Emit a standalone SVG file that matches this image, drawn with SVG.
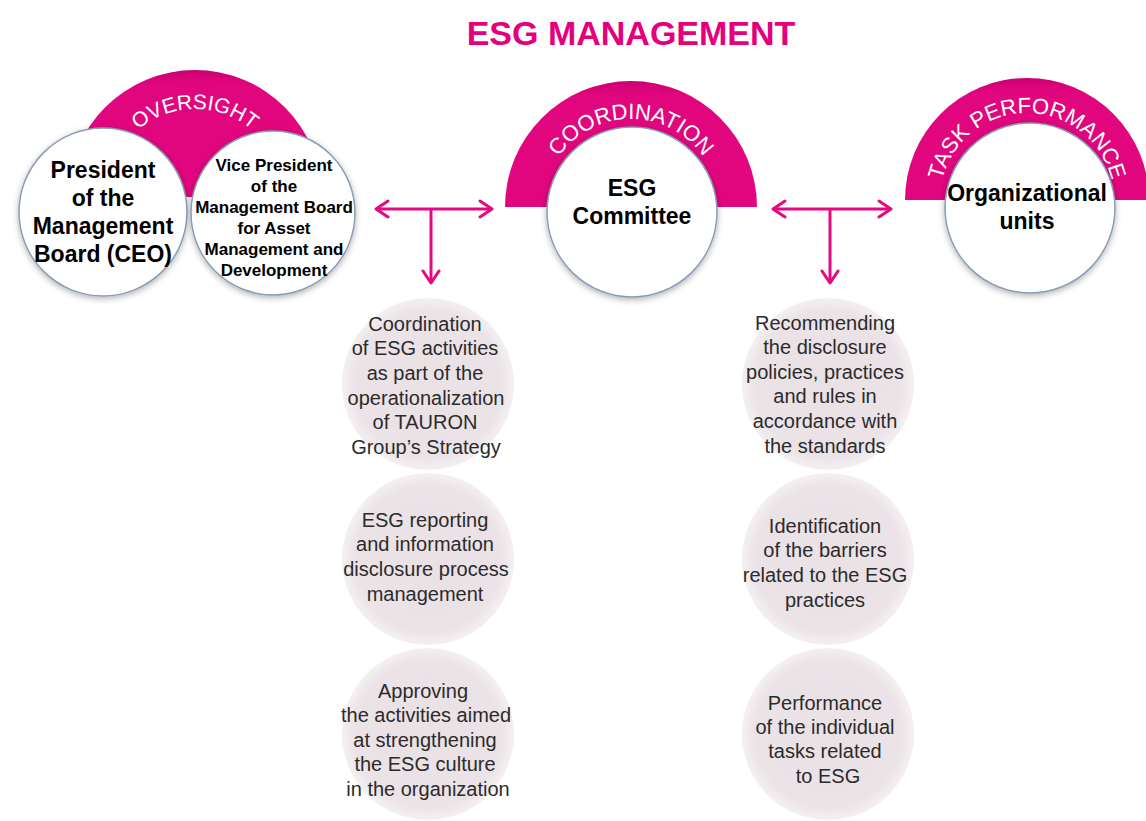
<svg xmlns="http://www.w3.org/2000/svg" xmlns:xlink="http://www.w3.org/1999/xlink" width="1146" height="821" viewBox="0 0 1146 821">
<defs>
<style>
.title{font-family:"Liberation Sans",Arial,sans-serif;font-weight:bold;font-size:34px;fill:#e4007d}
.arcTxt{font-family:"Liberation Sans",Arial,sans-serif;font-size:22px;fill:#ffffff}
.big{font-family:"Liberation Sans",Arial,sans-serif;font-weight:bold;font-size:23px;fill:#000}
.vp{font-family:"Liberation Sans",Arial,sans-serif;font-weight:bold;font-size:17px;fill:#000}
.task{font-family:"Liberation Sans",Arial,sans-serif;font-size:20px;fill:#2b2b2b}
.white{fill:#ffffff;stroke:#8a9bb5;stroke-width:1.5;filter:url(#sh)}
.soft{fill:url(#softg)}
.conn{stroke:#e5097f;stroke-width:3;fill:none}
</style>
<filter id="sh" x="-20%" y="-20%" width="140%" height="140%">
<feDropShadow dx="0" dy="2" stdDeviation="3" flood-color="#000" flood-opacity="0.3"/>
</filter>
<radialGradient id="softg" cx="0.5" cy="0.5" r="0.5">
<stop offset="0" stop-color="#eae1e5"/>
<stop offset="0.85" stop-color="#ebe3e7"/>
<stop offset="1" stop-color="#f4f0f2"/>
</radialGradient>
<radialGradient id="arcg" cx="0.5" cy="1" r="1" gradientUnits="objectBoundingBox">
<stop offset="0" stop-color="#e2067e"/>
<stop offset="0.9" stop-color="#e2067e"/>
<stop offset="1" stop-color="#c9006f"/>
</radialGradient>
<marker id="ah" viewBox="0 0 16 20" refX="14" refY="10" markerWidth="16" markerHeight="20" markerUnits="userSpaceOnUse" orient="auto-start-reverse">
<path d="M2,2 L14,10 L2,18" fill="none" stroke="#e5097f" stroke-width="3" stroke-linecap="round" stroke-linejoin="round"/>
</marker>
<path id="pOv" d="M107,197 A88,88 0 0 1 283,197"/>
<path id="pCo" d="M543,207 A88,88 0 0 1 719,207"/>
<path id="pTa" d="M940,200 A87,87 0 0 1 1114,200"/>
</defs>
<rect width="1146" height="821" fill="#ffffff"/>
<text class="title" x="631" y="45" text-anchor="middle">ESG MANAGEMENT</text>

<g id="oversight">
<path d="M68,197 A127,127 0 0 1 322,197 Z" fill="url(#arcg)"/>
<text class="arcTxt" style="font-size:21px"><textPath xlink:href="#pOv" href="#pOv" startOffset="50%" text-anchor="middle">OVERSIGHT</textPath></text>
</g>
<g id="ceo">
<circle class="white" cx="103" cy="212" r="84"/>
<text class="big" text-anchor="middle"><tspan x="103" y="178">President</tspan><tspan x="103" y="206">of the</tspan><tspan x="103" y="234">Management</tspan><tspan x="103" y="262">Board (CEO)</tspan></text>
</g>
<g id="vice-president">
<circle class="white" cx="273" cy="213" r="82"/>
<text class="vp" text-anchor="middle"><tspan x="274" y="171">Vice President</tspan><tspan x="274" y="192">of the</tspan><tspan x="274" y="213">Management Board</tspan><tspan x="274" y="234">for Asset</tspan><tspan x="274" y="255">Management and</tspan><tspan x="274" y="276">Development</tspan></text>
</g>

<g id="coordination">
<path d="M505,207 A126,126 0 0 1 757,207 Z" fill="url(#arcg)"/>
<text class="arcTxt"><textPath xlink:href="#pCo" href="#pCo" startOffset="50%" text-anchor="middle">COORDINATION</textPath></text>
</g>
<g id="esg-committee">
<circle class="white" cx="632" cy="212" r="85"/>
<text class="big" text-anchor="middle"><tspan x="632" y="196">ESG</tspan><tspan x="632" y="224">Committee</tspan></text>
</g>

<g id="task-performance">
<path d="M905,200 A122,122 0 0 1 1149,200 Z" fill="url(#arcg)"/>
<text class="arcTxt"><textPath xlink:href="#pTa" href="#pTa" startOffset="50%" text-anchor="middle">TASK PERFORMANCE</textPath></text>
</g>
<g id="organizational-units">
<circle class="white" cx="1030" cy="208" r="85"/>
<text class="big" text-anchor="middle"><tspan x="1027" y="201">Organizational</tspan><tspan x="1027" y="229">units</tspan></text>
</g>

<g id="connectors">
<line class="conn" x1="376" y1="209" x2="492" y2="209" marker-start="url(#ah)" marker-end="url(#ah)"/>
<line class="conn" x1="431" y1="209" x2="431" y2="283" marker-end="url(#ah)"/>
<line class="conn" x1="773" y1="209" x2="891" y2="209" marker-start="url(#ah)" marker-end="url(#ah)"/>
<line class="conn" x1="830" y1="209" x2="830" y2="283" marker-end="url(#ah)"/>
</g>

<g id="task-coordination">
<circle class="soft" cx="428" cy="384" r="86"/>
<text class="task" text-anchor="middle"><tspan x="425" y="331">Coordination</tspan><tspan x="425" y="355">of ESG activities</tspan><tspan x="425" y="380">as part of the</tspan><tspan x="426" y="405">operationalization</tspan><tspan x="425" y="429">of TAURON</tspan><tspan x="426" y="454">Group’s Strategy</tspan></text>
</g>
<g id="task-reporting">
<circle class="soft" cx="428" cy="559" r="86"/>
<text class="task" text-anchor="middle"><tspan x="425" y="527">ESG reporting</tspan><tspan x="425" y="551">and information</tspan><tspan x="426" y="576">disclosure process</tspan><tspan x="425" y="601">management</tspan></text>
</g>
<g id="task-approving">
<circle class="soft" cx="428" cy="734" r="86"/>
<text class="task" text-anchor="middle"><tspan x="423" y="698">Approving</tspan><tspan x="426" y="722">the activities aimed</tspan><tspan x="425" y="747">at strengthening</tspan><tspan x="425" y="771">the ESG culture</tspan><tspan x="428" y="796">in the organization</tspan></text>
</g>
<g id="task-recommending">
<circle class="soft" cx="828" cy="384" r="86"/>
<text class="task" text-anchor="middle"><tspan x="825" y="330">Recommending</tspan><tspan x="825" y="354">the disclosure</tspan><tspan x="825" y="379">policies, practices</tspan><tspan x="825" y="403">and rules in</tspan><tspan x="825" y="428">accordance with</tspan><tspan x="825" y="453">the standards</tspan></text>
</g>
<g id="task-identification">
<circle class="soft" cx="828" cy="559" r="86"/>
<text class="task" text-anchor="middle"><tspan x="825" y="533">Identification</tspan><tspan x="825" y="557">of the barriers</tspan><tspan x="825" y="582">related to the ESG</tspan><tspan x="825" y="607">practices</tspan></text>
</g>
<g id="task-performance-items">
<circle class="soft" cx="828" cy="734" r="86"/>
<text class="task" text-anchor="middle"><tspan x="825" y="710">Performance</tspan><tspan x="825" y="734">of the individual</tspan><tspan x="825" y="758">tasks related</tspan><tspan x="828" y="783">to ESG</tspan></text>
</g>
</svg>
